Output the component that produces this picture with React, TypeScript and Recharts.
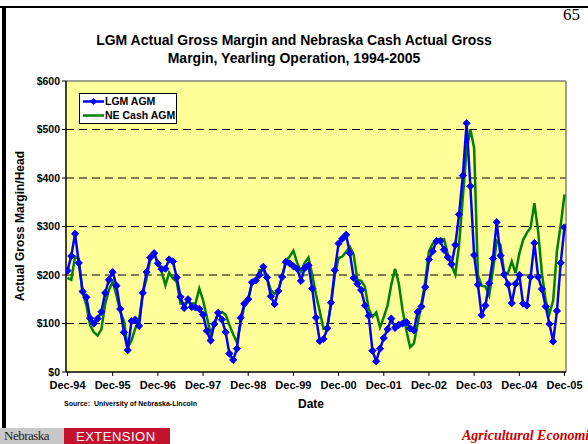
import React from 'react';
import { LineChart, Line, XAxis, YAxis, CartesianGrid, ReferenceLine } from 'recharts';

// Monthly observations, Dec-94 .. Dec-05 (133 months)
const tickLabels = ['Dec-94', 'Dec-95', 'Dec-96', 'Dec-97', 'Dec-98', 'Dec-99', 'Dec-00', 'Dec-01', 'Dec-02', 'Dec-03', 'Dec-04', 'Dec-05'];

const lgmAgm = [
  209, 239, 285, 225, 166, 154, 111, 100, 110, 124, 163, 190,
  206, 178, 130, 82, 45, 105, 108, 95, 163, 206, 236, 245,
  224, 212, 213, 232, 228, 195, 155, 132, 150, 134, 133, 130,
  118, 85, 65, 99, 122, 108, 82, 38, 25, 48, 112, 141,
  150, 185, 189, 200, 217, 195, 156, 140, 167, 196, 227, 224,
  218, 213, 188, 214, 220, 172, 112, 64, 68, 90, 143, 210,
  265, 275, 283, 245, 194, 182, 169, 137, 116, 44, 22, 48,
  70, 88, 110, 91, 97, 100, 103, 90, 86, 124, 135, 175,
  232, 249, 270, 270, 252, 237, 222, 262, 325, 405, 513, 383,
  241, 180, 117, 137, 183, 234, 309, 240, 201, 181, 142, 182,
  200, 141, 137, 196, 266, 196, 171, 135, 99, 63, 126, 225,
  298,
];

const neCashAgm = [
  194, 190, 238, 233, 165, 138, 96, 82, 75, 88, 140, 169,
  186, 158, 125, 105, 50, 65, 90, 107, 162, 193, 234, 246,
  224, 207, 179, 205, 193, 186, 141, 141, 145, 141, 141, 172,
  148, 114, 79, 99, 120, 124, 118, 97, 78, 61, 100, 138,
  150, 183, 189, 210, 211, 193, 169, 161, 169, 198, 229, 238,
  250, 225, 207, 225, 236, 200, 160, 125, 89, 94, 140, 200,
  235, 238, 248, 258, 242, 190, 188, 176, 130, 114, 123, 92,
  113, 137, 180, 213, 182, 127, 86, 51, 59, 99, 140, 186,
  249, 265, 272, 274, 274, 243, 220, 201, 262, 360, 458, 500,
  462, 200, 178, 176, 158, 210, 270, 262, 204, 204, 228, 204,
  244, 272, 287, 298, 348, 290, 203, 148, 120, 148, 250, 303,
  366,
];

const yTicks = [0, 100, 200, 300, 400, 500, 600];

const data = lgmAgm.map((v, i) => ({ idx: i, lgm: v, ne: neCashAgm[i] }));
const xTicks = tickLabels.map((_, k) => k * 12);
const xDomain: [number, number] = [-0.4, lgmAgm.length - 1 + 0.4];

const FONT = 'Arial, "Liberation Sans", sans-serif';

const Diamond = (props: any) => {
  const { cx, cy } = props;
  if (cx == null || cy == null) return null;
  const r = 3.6;
  return (
    <path
      d={`M${cx},${cy - r}L${cx + r},${cy}L${cx},${cy + r}L${cx - r},${cy}Z`}
      fill="#0000FF"
      stroke="#0000FF"
      strokeWidth={1}
    />
  );
};

export default function App() {
  return (
    <div style={{ position: 'absolute', left: 0, top: 0, width: 588, height: 444, background: '#fff', overflow: 'hidden', fontFamily: FONT }}>
      {/* slide frame */}
      <div style={{ position: 'absolute', left: 0, top: 6, width: 588, height: 2, background: '#000' }} />
      <div style={{ position: 'absolute', left: 2, top: 6, width: 4, height: 424, background: '#000' }} />
      <div style={{ position: 'absolute', right: 8, top: 5, fontFamily: '"Liberation Serif", "Times New Roman", serif', fontSize: 17, color: '#000' }}>65</div>

      <div style={{ position: 'absolute', left: 0, top: 31, width: 588, textAlign: 'center', fontWeight: 'bold', fontSize: 14, lineHeight: '18px', color: '#000' }}>
        LGM Actual Gross Margin and Nebraska Cash Actual Gross
        <br />
        Margin, Yearling Operation, 1994-2005
      </div>

      <div style={{ position: 'absolute', left: 0, top: 0 }}>
        <LineChart width={588} height={444} data={data} margin={{ top: 81, right: 22, bottom: 42, left: 0 }}>
          <CartesianGrid horizontal={false} vertical={false} fill="#FFFF99" />
          {yTicks.filter((v) => v > 0 && v < 600).map((v) => (
            <ReferenceLine key={v} y={v} stroke="#000" strokeDasharray="8 5" strokeWidth={1} />
          ))}
          <ReferenceLine y={600} stroke="#808080" strokeWidth={1.5} />
          <ReferenceLine x={xDomain[1]} stroke="#808080" strokeWidth={1.5} />
          <XAxis
            type="number"
            dataKey="idx"
            domain={xDomain}
            ticks={xTicks}
            allowDataOverflow
            tickFormatter={(v: number) => tickLabels[Math.round(v / 12)]}
            tick={{ fill: '#000', fontSize: 11, fontWeight: 'bold', fontFamily: FONT }}
            tickSize={4}
            tickMargin={5}
            axisLine={{ stroke: '#000', strokeWidth: 1.5 }}
            tickLine={{ stroke: '#000' }}
            height={30}
            interval={0}
          />
          <YAxis
            type="number"
            domain={[0, 600]}
            ticks={yTicks}
            width={66}
            tickFormatter={(v: number) => `$${v}`}
            tick={{ fill: '#000', fontSize: 10.5, fontWeight: 'bold', fontFamily: FONT }}
            tickSize={4}
            axisLine={{ stroke: '#000', strokeWidth: 1.5 }}
            tickLine={{ stroke: '#000' }}
            interval={0}
          />
          <Line type="linear" dataKey="ne" stroke="#008000" strokeWidth={2.5} dot={false} isAnimationActive={false} />
          <Line type="linear" dataKey="lgm" stroke="#0000FF" strokeWidth={2.5} dot={<Diamond />} isAnimationActive={false} />
        </LineChart>
      </div>

      {/* legend */}
      <div style={{ position: 'absolute', left: 79, top: 93, width: 96, height: 29, border: '1px solid #000', background: '#fff', fontWeight: 'bold', fontSize: 10.5, color: '#000' }}>
        <svg width={26} height={29} style={{ position: 'absolute', left: 0, top: 0 }}>
          <line x1={3} y1={7.5} x2={24} y2={7.5} stroke="#0000FF" strokeWidth={2.5} />
          <path d="M13.5,3.9L17.1,7.5L13.5,11.1L9.9,7.5Z" fill="#0000FF" />
          <line x1={3} y1={21.5} x2={24} y2={21.5} stroke="#008000" strokeWidth={2.5} />
        </svg>
        <div style={{ position: 'absolute', left: 25, top: 1, lineHeight: '13px' }}>LGM AGM</div>
        <div style={{ position: 'absolute', left: 25, top: 15, lineHeight: '13px' }}>NE Cash AGM</div>
      </div>

      {/* y axis title */}
      <div style={{ position: 'absolute', left: 20, top: 226, width: 0, height: 0 }}>
        <div style={{ position: 'absolute', transform: 'translate(-50%, -50%) rotate(-90deg)', whiteSpace: 'nowrap', fontWeight: 'bold', fontSize: 12, color: '#000' }}>
          Actual Gross Margin/Head
        </div>
      </div>

      <div style={{ position: 'absolute', left: 64, top: 400, fontWeight: 'bold', fontSize: 7, color: '#000', whiteSpace: 'nowrap' }}>
        Source:&nbsp; University of Nebraska-Lincoln
      </div>
      <div style={{ position: 'absolute', left: 298, top: 397, fontWeight: 'bold', fontSize: 12, color: '#000' }}>Date</div>

      {/* logos */}
      <div style={{ position: 'absolute', left: 0, top: 428, width: 64, height: 16, background: '#C8C8C8', overflow: 'hidden' }}>
        <div style={{ position: 'absolute', left: 4, top: 0, fontFamily: '"Liberation Serif", serif', fontSize: 13, lineHeight: '16px', color: '#222', letterSpacing: -0.5 }}>Nebraska</div>
      </div>
      <div style={{ position: 'absolute', left: 64, top: 428, width: 106, height: 16, background: '#C4122F', overflow: 'hidden' }}>
        <div style={{ position: 'absolute', left: 12, top: 1, fontSize: 13, lineHeight: '16px', color: '#fff', letterSpacing: 0.5 }}>EXTENSION</div>
      </div>
      <div style={{ position: 'absolute', left: 462, top: 427, fontFamily: '"Liberation Serif", serif', fontStyle: 'italic', fontWeight: 'bold', fontSize: 14, lineHeight: '17px', color: '#CC0000', whiteSpace: 'nowrap' }}>
        Agricultural Economics
      </div>
    </div>
  );
}
